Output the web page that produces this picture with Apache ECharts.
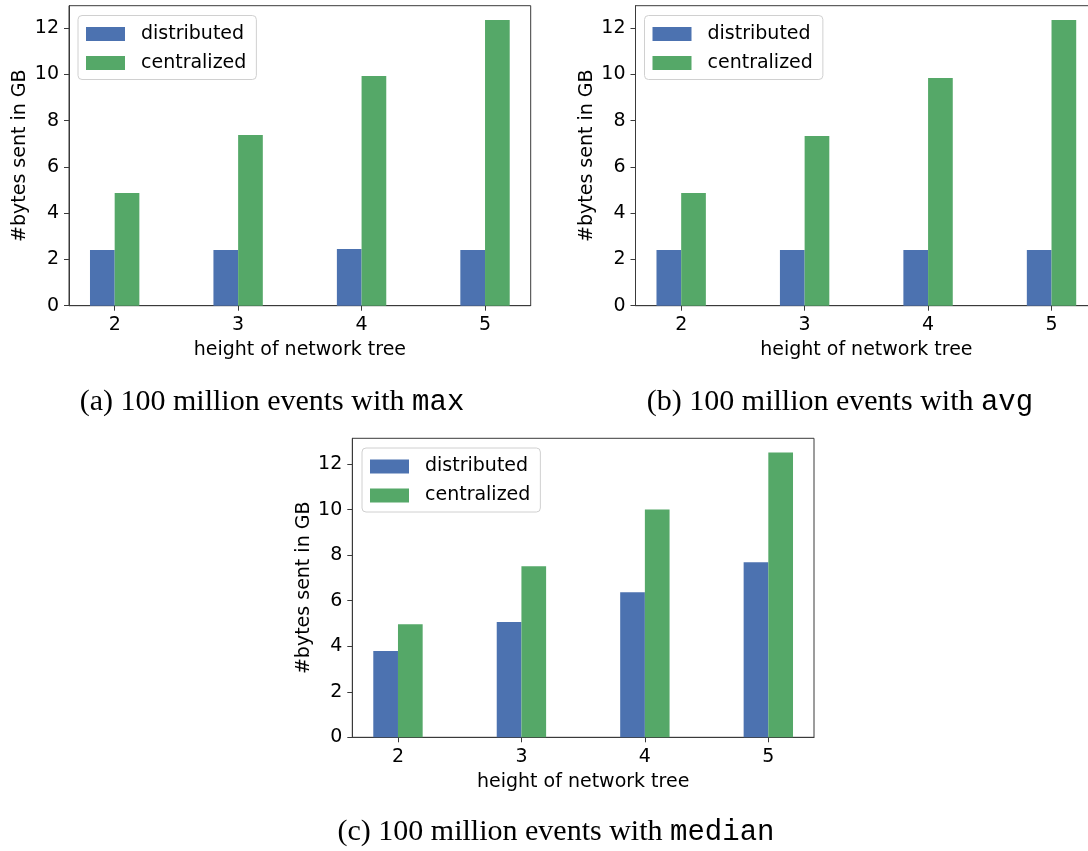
<!DOCTYPE html>
<html>
<head>
<meta charset="utf-8">
<script src="https://cdn.jsdelivr.net/npm/echarts@6/dist/echarts.min.js"></script>
<style>
  html, body { margin: 0; padding: 0; background: #fff; }
  #chart { width: 1088px; height: 851px; }
</style>
</head>
<body>
<div id="chart"></div>
<script>
// ---- data ----
const categories = [2, 3, 4, 5];
const seriesNames = ['distributed', 'centralized'];
const maxDistributed = [2.41, 2.41, 2.45, 2.41];
const maxCentralized = [4.87, 7.38, 9.93, 12.35];
const avgDistributed = [2.41, 2.41, 2.41, 2.41];
const avgCentralized = [4.87, 7.33, 9.84, 12.35];
const medianDistributed = [3.79, 5.06, 6.37, 7.69];
const medianCentralized = [4.97, 7.51, 10.01, 12.51];
const yTicks = [0, 2, 4, 6, 8, 10, 12];
const xTicks = [2, 3, 4, 5];
const captionPrefixes = ['(a) 100 million events with ', '(b) 100 million events with ', '(c) 100 million events with '];
const captionFunctions = ['max', 'avg', 'median'];
const xAxisName = 'height of network tree';
const yAxisName = '#bytes sent in GB';

// ---- style ----
const BLUE = '#4C72B0';
const GREEN = '#55A868';
const SPINE = '#3a3a3a';
const FONT = 'DejaVu Sans';
const BAR_W = 0.2;

const panels = [
  { dist: maxDistributed, cent: maxCentralized, grid: { left: 69, top: 5.7, width: 461.7, height: 300 }, legend: { left: 78, top: 15.5 }, caption: { x: 272, y: 402 } },
  { dist: avgDistributed, cent: avgCentralized, grid: { left: 635.5, top: 5.7, width: 461.7, height: 300 }, legend: { left: 644.5, top: 15.5 }, caption: { x: 840, y: 402 } },
  { dist: medianDistributed, cent: medianCentralized, grid: { left: 352.3, top: 438.3, width: 461.7, height: 299 }, legend: { left: 362, top: 448 }, caption: { x: 556, y: 832 } }
];

const xMin = categories[0] - BAR_W - 0.05 * (categories[categories.length - 1] - categories[0] + 2 * BAR_W);
const xMax = categories[categories.length - 1] + BAR_W + 0.05 * (categories[categories.length - 1] - categories[0] + 2 * BAR_W);

function renderBar(offset) {
  return function (params, api) {
    const x = api.value(0), y = api.value(1);
    const p0 = api.coord([x + offset, y]);
    const p1 = api.coord([x + offset + BAR_W, 0]);
    return {
      type: 'rect',
      shape: { x: p0[0], y: p0[1], width: p1[0] - p0[0], height: p1[1] - p0[1] },
      style: api.style()
    };
  };
}

const grids = [], xAxes = [], yAxes = [], series = [], legends = [], graphics = [];
panels.forEach((p, i) => {
  grids.push(Object.assign({ show: true, borderColor: SPINE, borderWidth: 1, backgroundColor: 'transparent', containLabel: false, outerBoundsMode: 'none' }, p.grid));
  xAxes.push({
    type: 'value', gridIndex: i, min: xMin, max: xMax,
    name: xAxisName, nameLocation: 'middle', nameGap: 35,
    nameTextStyle: { fontFamily: FONT, fontSize: 19, color: '#000' },
    axisLine: { show: true, onZero: false, lineStyle: { color: SPINE, width: 1 } },
    axisTick: { show: true, length: 5, inside: false, customValues: xTicks, lineStyle: { color: SPINE } },
    axisLabel: { show: true, margin: 10, customValues: xTicks, fontFamily: FONT, fontSize: 19, color: '#000' },
    splitLine: { show: false }
  });
  const yMax = Math.max(...p.dist, ...p.cent) * 1.05;
  yAxes.push({
    type: 'value', gridIndex: i, min: 0, max: yMax,
    name: yAxisName, nameLocation: 'middle', nameGap: 39,
    nameTextStyle: { fontFamily: FONT, fontSize: 19, color: '#000' },
    axisLine: { show: true, lineStyle: { color: SPINE, width: 1 } },
    axisTick: { show: true, length: 5, inside: false, customValues: yTicks, lineStyle: { color: SPINE } },
    axisLabel: { show: true, margin: 10, customValues: yTicks, fontFamily: FONT, fontSize: 19, color: '#000' },
    splitLine: { show: false }
  });
  series.push({
    type: 'custom', name: seriesNames[0], xAxisIndex: i, yAxisIndex: i,
    itemStyle: { color: BLUE },
    renderItem: renderBar(-BAR_W),
    data: categories.map((c, k) => [c, p.dist[k]])
  });
  series.push({
    type: 'custom', name: seriesNames[1], xAxisIndex: i, yAxisIndex: i,
    itemStyle: { color: GREEN },
    renderItem: renderBar(0),
    data: categories.map((c, k) => [c, p.cent[k]])
  });
  legends.push({
    data: seriesNames, orient: 'vertical', left: p.legend.left, top: p.legend.top,
    icon: 'rect', itemWidth: 39, itemHeight: 14, itemGap: 10,
    padding: [9, 10, 7, 8],
    borderColor: '#d0d0d0', borderWidth: 1, borderRadius: 4, backgroundColor: '#fff',
    selectedMode: false,
    textStyle: { fontFamily: FONT, fontSize: 19, color: '#000', padding: [0, 0, 0, 11] }
  });
  graphics.push({
    type: 'text', x: p.caption.x, y: p.caption.y,
    style: {
      text: '{s|' + captionPrefixes[i] + '}{m|' + captionFunctions[i] + '}',
      align: 'center', verticalAlign: 'middle',
      rich: {
        s: { fontFamily: 'Liberation Serif', fontSize: 30, fill: '#000' },
        m: { fontFamily: 'Liberation Mono', fontSize: 29, fill: '#000' }
      }
    }
  });
});

const chart = echarts.init(document.getElementById('chart'), null, { renderer: 'canvas' });
chart.setOption({
  animation: false,
  backgroundColor: '#fff',
  grid: grids,
  xAxis: xAxes,
  yAxis: yAxes,
  legend: legends,
  series: series,
  graphic: graphics
});
</script>
</body>
</html>
